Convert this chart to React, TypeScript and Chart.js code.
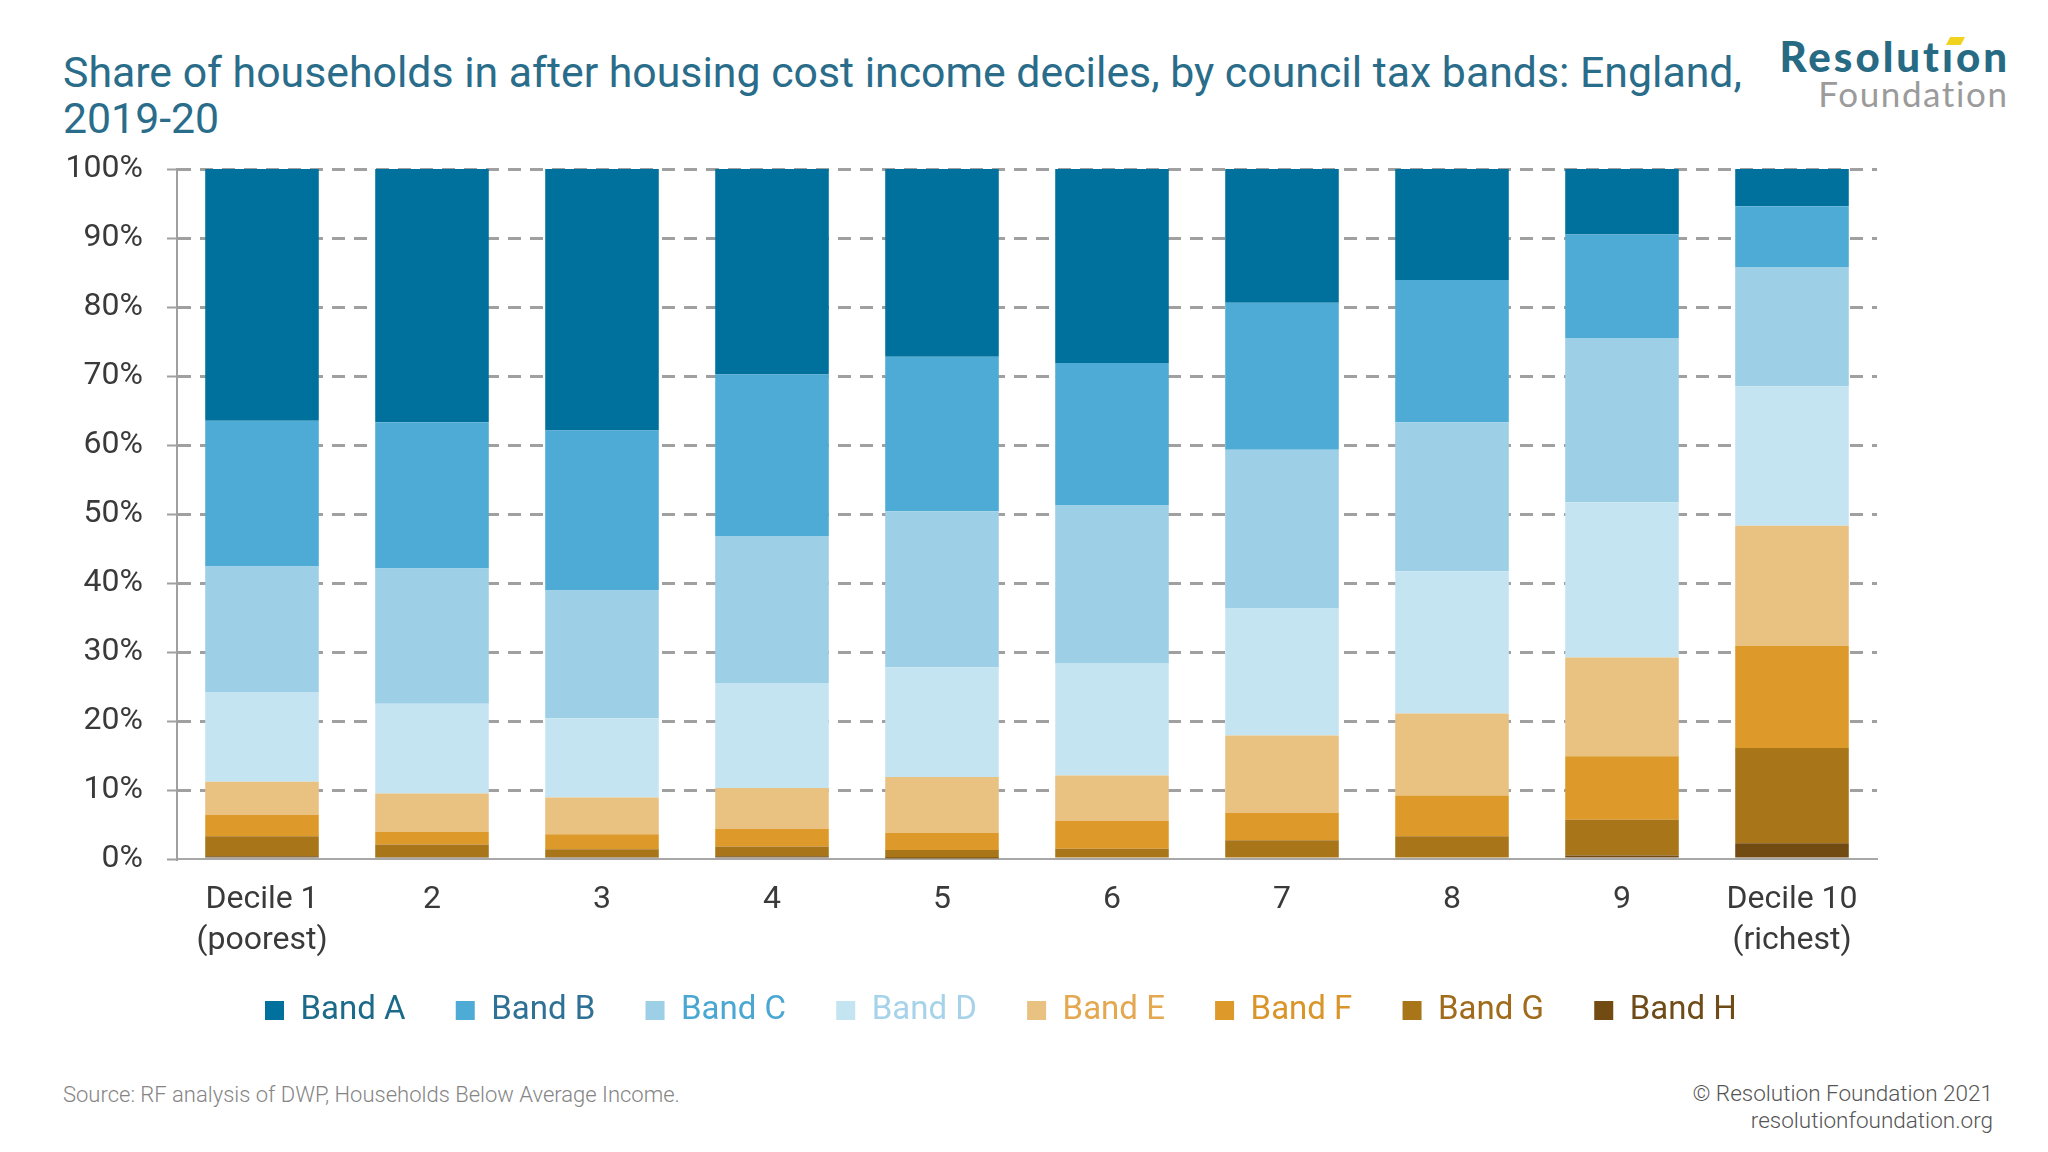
import React, { useEffect, useRef } from 'react';
import { Chart, registerables } from 'chart.js';

Chart.register(...registerables);

const categories: (string | string[])[] = [
  ['Decile 1', '(poorest)'], '2', '3', '4', '5', '6', '7', '8', '9', ['Decile 10', '(richest)'],
];

// Share of households (%) in each council tax band, per AHC income decile
const bandA = [36.5, 36.7, 37.9, 29.8, 27.2, 28.1, 19.4, 16.1, 9.5, 5.4];
const bandB = [21.1, 21.2, 23.2, 23.4, 22.4, 20.6, 21.3, 20.6, 15.0, 8.8];
const bandC = [18.2, 19.6, 18.5, 21.3, 22.6, 22.9, 23.0, 21.6, 23.8, 17.3];
const bandD = [13.0, 13.0, 11.5, 15.2, 15.9, 16.3, 18.4, 20.6, 22.5, 20.2];
const bandE = [4.8, 5.6, 5.3, 5.9, 8.1, 6.6, 11.2, 11.9, 14.3, 17.4];
const bandF = [3.1, 1.8, 2.2, 2.6, 2.5, 4.0, 4.0, 5.9, 9.2, 14.8];
const bandG = [2.9, 1.8, 1.1, 1.4, 1.2, 1.3, 2.7, 3.3, 5.2, 13.8];
const bandH = [0.4, 0.3, 0.3, 0.4, 0.1, 0.2, 0.0, 0.0, 0.5, 2.3];

const bandNames = ['Band A', 'Band B', 'Band C', 'Band D', 'Band E', 'Band F', 'Band G', 'Band H'];
const bandColors = ['#00719c', '#4eabd5', '#9dcfe6', '#c4e4f2', '#e9c281', '#dd9a2b', '#a97519', '#724b13'];
const legendTextColors = ['#1c6a8a', '#2f7196', '#4aa7d2', '#a6d3ea', '#e3a850', '#d9952a', '#a06c1c', '#6e4b17'];

const FONT = 'Roboto, "Noto Sans", sans-serif';

export default function App() {
  const ref = useRef<HTMLCanvasElement>(null);

  useEffect(() => {
    document.body.style.margin = '0';
    const series = [bandA, bandB, bandC, bandD, bandE, bandF, bandG, bandH];
    const datasets = series
      .map((d, i) => ({
        label: bandNames[i],
        data: d,
        backgroundColor: bandColors[i],
        borderWidth: 0,
        barPercentage: 0.668,
        categoryPercentage: 1,
      }))
      .reverse();

    const chart = new Chart(ref.current as HTMLCanvasElement, {
      type: 'bar',
      data: { labels: categories as any, datasets },
      options: {
        animation: false,
        responsive: false,
        maintainAspectRatio: false,
        layout: { padding: { top: 169, left: 0, right: 26, bottom: 0 } },
        plugins: {
          tooltip: { enabled: false },
          legend: {
            position: 'bottom',
            reverse: true,
            labels: {
              boxWidth: 19,
              boxHeight: 19,
              padding: 30,
              font: { family: FONT, size: 33 },
              generateLabels: (c: any) => {
                const items = Chart.defaults.plugins.legend.labels.generateLabels(c);
                return items.map((it: any) => {
                  const idx = bandNames.indexOf(it.text);
                  return {
                    ...it,
                    text: it.text + '\u2002\u200A',
                    fontColor: legendTextColors[idx],
                    lineWidth: 0,
                    strokeStyle: 'rgba(0,0,0,0)',
                  };
                });
              },
            },
          },
        },
        scales: {
          x: {
            stacked: true,
            grid: { display: false, drawTicks: false },
            border: { display: true, color: '#a8a8a8', width: 2 },
            ticks: {
              color: '#3a3a3a',
              font: { family: FONT, size: 32, lineHeight: 1.3 },
              padding: 20,
              maxRotation: 0,
              autoSkip: false,
            },
            afterFit: (s: any) => {
              s.height = 105;
            },
          },
          y: {
            stacked: true,
            min: 0,
            max: 100,
            ticks: {
              stepSize: 10,
              color: '#3a3a3a',
              font: { family: FONT, size: 32 },
              padding: 24,
              callback: (v: any) => v + '%',
            },
            grid: {
              color: (ctx: any) => (ctx.tick && ctx.tick.value === 0 ? 'rgba(0,0,0,0)' : '#a0a0a0'),
              lineWidth: 3,
              tickLength: 10,
              tickColor: '#a0a0a0',
              tickWidth: 2,
              tickBorderDash: [],
            },
            border: { display: true, color: '#a0a0a0', width: 2, dash: [13, 9] },
            afterFit: (s: any) => {
              s.width = 177;
            },
          },
          y2: {
            position: 'right',
            display: true,
            grid: { display: false, drawTicks: false },
            border: { display: false },
            ticks: { display: false },
            afterFit: (s: any) => {
              s.width = 145;
            },
          },
        },
      } as any,
    });
    return () => chart.destroy();
  }, []);

  return (
    <div style={{ position: 'relative', width: 2048, height: 1152, background: '#ffffff', overflow: 'hidden', fontFamily: FONT }}>
      <div
        style={{
          position: 'absolute',
          left: 63,
          top: 49,
          fontSize: 42.8,
          lineHeight: '46px',
          color: '#2a6d8a',
          fontWeight: 400,
          whiteSpace: 'nowrap',
        }}
      >
        Share of households in after housing cost income deciles, by council tax bands: England,
        <br />
        2019-20
      </div>
      <div
        style={{
          position: 'absolute',
          right: 41,
          top: 33,
          textAlign: 'right',
          whiteSpace: 'nowrap',
        }}
      >
        <div
          style={{
            fontFamily: 'Lato, sans-serif',
            fontWeight: 900,
            fontSize: 42,
            lineHeight: '46px',
            color: '#276a84',
            position: 'relative',
            letterSpacing: '3px',
            marginRight: -3,
          }}
        >
          Resolutıon
          <div
            style={{
              position: 'absolute',
              right: 45,
              top: 4,
              width: 19,
              height: 8,
              background: '#f1d21c',
              clipPath: 'polygon(22% 0, 100% 0, 78% 100%, 0 100%)',
            }}
          />
        </div>
        <div
          style={{
            fontFamily: 'Lato, sans-serif',
            fontWeight: 400,
            fontSize: 35,
            lineHeight: '28px',
            color: '#9b9b9b',
            letterSpacing: '1.6px',
            marginRight: -1.6,
          }}
        >
          Foundation
        </div>
      </div>
      <canvas ref={ref} width={2048} height={1037} style={{ position: 'absolute', left: 0, top: 0, width: 2048, height: 1037 }} />
      <div style={{ position: 'absolute', left: 63, top: 1082, fontSize: 22, color: '#858585', fontWeight: 300, whiteSpace: 'nowrap' }}>
        Source: RF analysis of DWP, Households Below Average Income.
      </div>
      <div
        style={{
          position: 'absolute',
          right: 55,
          top: 1080,
          fontSize: 22.5,
          lineHeight: '27px',
          color: '#555555',
          textAlign: 'right',
          fontWeight: 300,
          whiteSpace: 'nowrap',
        }}
      >
        © Resolution Foundation 2021
        <br />
        resolutionfoundation.org
      </div>
    </div>
  );
}
